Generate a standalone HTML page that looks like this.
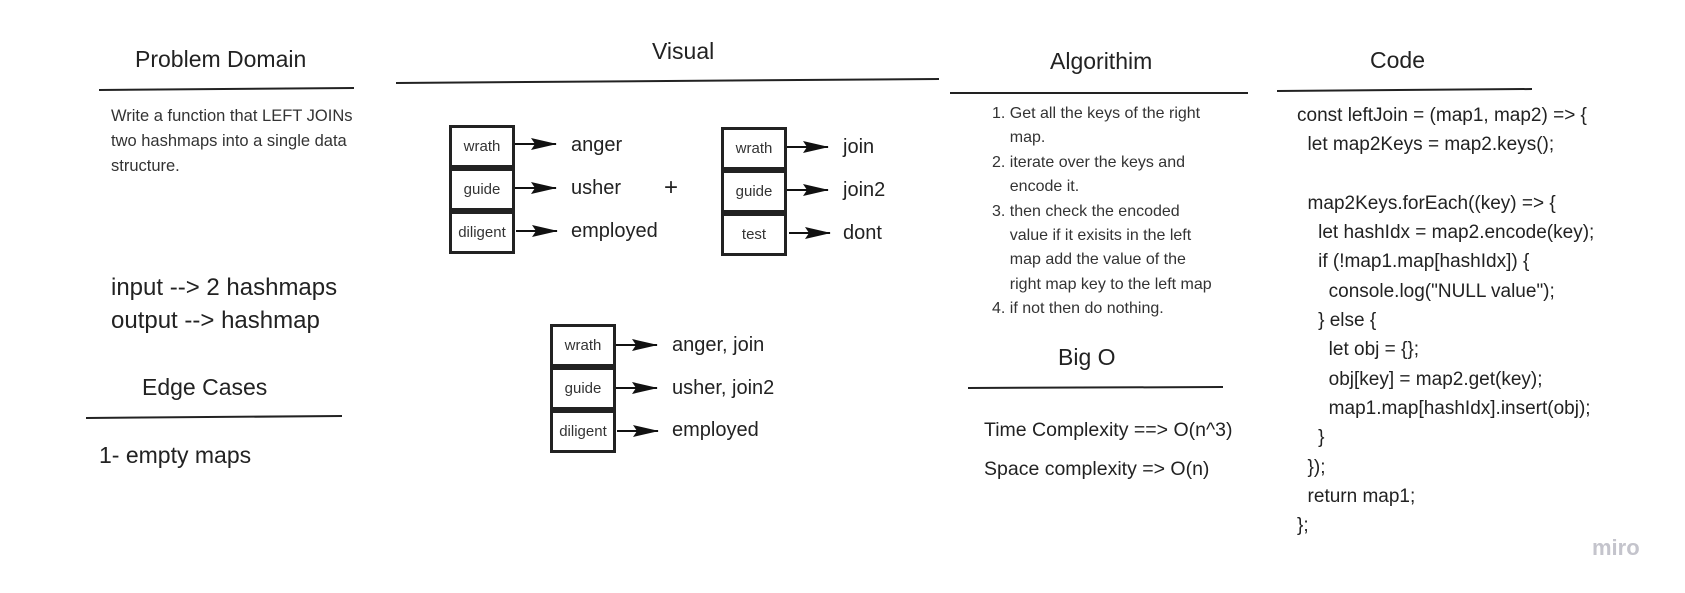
<!DOCTYPE html>
<html><head><meta charset="utf-8"><style>
body{margin:0;width:1685px;height:593px;background:#fff;position:relative;overflow:hidden;font-family:"Liberation Sans",sans-serif;color:#222}
.t{position:absolute;white-space:pre;line-height:1}
.h{font-size:23px}
.box{position:absolute;width:60px;height:37px;border:3px solid #222;box-sizing:content-box;font-size:15px;text-align:center;line-height:37px;color:#333;background:#fff}
svg{position:absolute;left:0;top:0}
</style></head><body>
<svg width="1685" height="593">
<defs><marker id="a" markerWidth="26" markerHeight="12" refX="25" refY="6" orient="auto" markerUnits="userSpaceOnUse"><path d="M0,0 L26,6 L0,12 L4,6 Z" fill="#111"/></marker></defs>
<g stroke="#222" stroke-width="2">
<line x1="99" y1="90" x2="354" y2="88"/>
<line x1="396" y1="83" x2="939" y2="79"/>
<line x1="86" y1="418" x2="342" y2="416"/>
<line x1="950" y1="93" x2="1248" y2="93"/>
<line x1="968" y1="388" x2="1223" y2="387"/>
<line x1="1277" y1="91" x2="1532" y2="89"/>
</g>
<g stroke="#111" stroke-width="2" marker-end="url(#a)">
<line x1="515" y1="144" x2="556" y2="144"/>
<line x1="515" y1="188" x2="556" y2="188"/>
<line x1="516" y1="231" x2="557" y2="231"/>
<line x1="787" y1="147" x2="828" y2="147"/>
<line x1="787" y1="190" x2="828" y2="190"/>
<line x1="789" y1="233" x2="830" y2="233"/>
<line x1="616" y1="345" x2="657" y2="345"/>
<line x1="616" y1="388" x2="657" y2="388"/>
<line x1="617" y1="431" x2="658" y2="431"/>
</g>
</svg>
<div class="t h" style="left:135px;top:48px">Problem Domain</div>
<div class="t h" style="left:652px;top:40px">Visual</div>
<div class="t h" style="left:1050px;top:50px">Algorithim</div>
<div class="t h" style="left:1370px;top:49px">Code</div>
<div class="t h" style="left:142px;top:376px">Edge Cases</div>
<div class="t h" style="left:1058px;top:346px">Big O</div>
<div class="t" style="left:111px;top:104px;font-size:16.5px;line-height:25px;color:#333">Write a function that LEFT JOINs
two hashmaps into a single data
structure.</div>
<div class="t" style="left:111px;top:271px;font-size:24px;line-height:33px">input --&gt; 2 hashmaps
output --&gt; hashmap</div>
<div class="t" style="left:99px;top:444px;font-size:23px">1- empty maps</div>
<div class="box" style="left:449px;top:125px">wrath</div>
<div class="box" style="left:449px;top:168px">guide</div>
<div class="box" style="left:449px;top:211px">diligent</div>
<div class="box" style="left:721px;top:127px">wrath</div>
<div class="box" style="left:721px;top:170px">guide</div>
<div class="box" style="left:721px;top:213px">test</div>
<div class="box" style="left:550px;top:324px">wrath</div>
<div class="box" style="left:550px;top:367px">guide</div>
<div class="box" style="left:550px;top:410px">diligent</div>
<div class="t" style="left:571px;top:124px;font-size:20px;line-height:43px">anger
usher
employed</div>
<div class="t" style="left:664px;top:176px;font-size:24px">+</div>
<div class="t" style="left:843px;top:126px;font-size:20px;line-height:43px">join
join2
dont</div>
<div class="t" style="left:672px;top:324px;font-size:20px;line-height:42.5px">anger, join
usher, join2
employed</div>
<div class="t" style="left:992px;top:102px;font-size:16px;line-height:24.4px;color:#333">1. Get all the keys of the right
    map.
2. iterate over the keys and
    encode it.
3. then check the encoded
    value if it exisits in the left
    map add the value of the
    right map key to the left map
4. if not then do nothing.</div>
<div class="t" style="left:984px;top:411px;font-size:19.5px;line-height:39px">Time Complexity ==&gt; O(n^3)
Space complexity =&gt; O(n)</div>
<div class="t" style="left:1297px;top:101px;font-size:19px;line-height:29.3px">const leftJoin = (map1, map2) =&gt; {
  let map2Keys = map2.keys();

  map2Keys.forEach((key) =&gt; {
    let hashIdx = map2.encode(key);
    if (!map1.map[hashIdx]) {
      console.log("NULL value");
    } else {
      let obj = {};
      obj[key] = map2.get(key);
      map1.map[hashIdx].insert(obj);
    }
  });
  return map1;
};</div>
<div class="t" style="left:1592px;top:537px;font-size:22px;color:#c4c4cc;font-weight:bold">miro</div>
</body></html>
